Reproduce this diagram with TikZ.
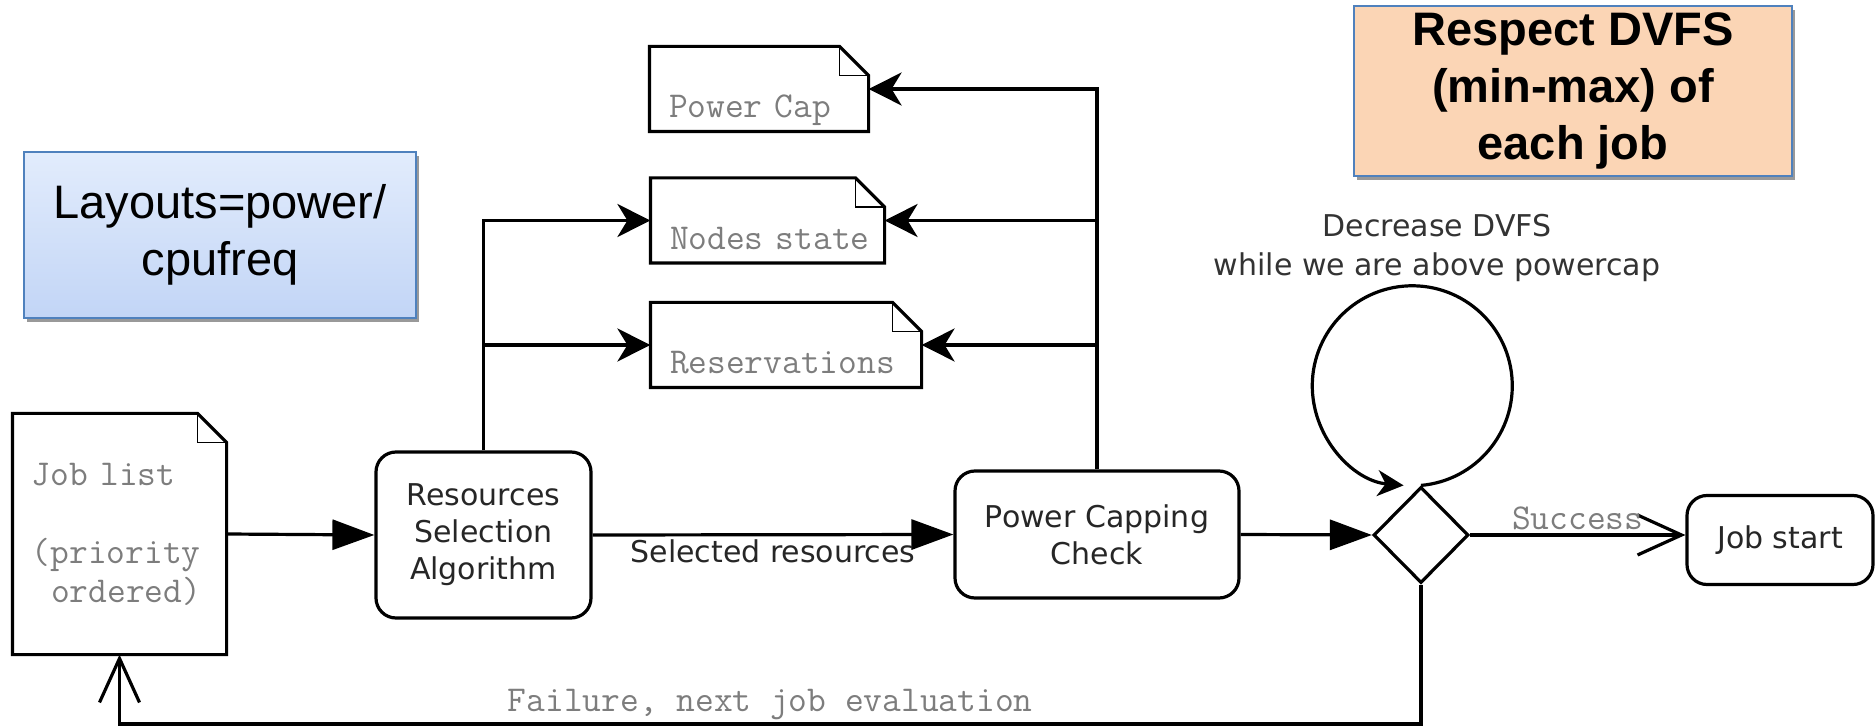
\documentclass[tikz,border=0pt]{standalone}
\usepackage{fontspec}
\setmainfont{DejaVu Sans}
\newfontfamily\arialfont{Liberation Sans}
\usepackage{xcolor}
\usepackage{tikz}
\usetikzlibrary{shapes.geometric,arrows.meta,shadows,calc}

\definecolor{noteblue}{RGB}{79,129,189}
\definecolor{bluetop}{RGB}{226,236,252}
\definecolor{bluebot}{RGB}{194,213,246}
\definecolor{peach}{RGB}{251,213,181}
\definecolor{docgray}{RGB}{125,125,125}

\def\foldsz{14.5pt}
% file outline with a folded corner
\newcommand{\dogear}[1]{%
  \draw (#1.south west) -- (#1.north west) -- ([xshift=-\foldsz]#1.north east)
    -- ([yshift=-\foldsz]#1.north east) -- (#1.south east) -- cycle;
  \draw[line width=0.8pt] ([xshift=-\foldsz]#1.north east) |- ([yshift=-\foldsz]#1.north east);
}

\tikzset{
  flow/.style={-{Triangle[length=21pt,width=15pt]}},
  feed/.style={-{Stealth[length=16.5pt,width=16.5pt,inset=5pt]}},
  barb/.style={-{Straight Barb[length=22pt,width=20pt]}},
  looptip/.style={-{Stealth[length=13pt,width=13pt,inset=4pt]}},
  procbox/.style={draw, rounded corners=10pt, align=center, text=black!85,
    font=\fontsize{15}{18.5}\selectfont},
  decision/.style={draw, diamond, aspect=1, inner sep=0pt,
    minimum width=47.5pt, minimum height=48pt},
  docfile/.style={draw=none, align=left, inner xsep=9pt, inner ysep=0pt,
    text height=35pt, text depth=6pt, text=docgray,
    font=\ttfamily\fontsize{18.2}{19.5}\selectfont},
  doclabel/.style={text=docgray, inner sep=1.5pt,
    font=\ttfamily\fontsize{18.2}{19.5}\selectfont},
  notebox/.style={draw=noteblue, line width=0.8pt, align=center,
    minimum width=#1, minimum height=83pt,
    drop shadow={shadow xshift=1.5pt, shadow yshift=-2pt, fill=black!40, opacity=1}},
}

\begin{document}
\begin{tikzpicture}[x=0.5pt,y=-0.5pt,line width=1.6pt]
  \useasboundingbox (0,0) rectangle (1876,727);

  % Notes
  \node[notebox=196pt, top color=bluetop, bottom color=bluebot,
    font=\arialfont\fontsize{23.5}{28.5}\selectfont] (layouts) at (220,235) {Layouts=power/\\cpufreq};
  \node[notebox=219pt, fill=peach,
    font=\arialfont\bfseries\fontsize{23.5}{28.5}\selectfont] (respect) at (1573,91) {Respect DVFS\\(min-max) of\\each job};

  % Files
  \node[docfile, text width=90pt] (pcap) at (759,89) {Power Cap};
  \node[docfile, text width=97.5pt] (nstate) at (767.5,220.5) {\mbox{Nodes state}};
  \node[docfile, text width=116pt] (resv) at (786,345) {Reservations};
  \node[draw=none, align=left, inner xsep=9pt, text width=87.5pt, minimum height=119pt,
    text=docgray, font=\ttfamily\fontsize{18.2}{19.5}\selectfont] (jobs) at (119.5,534)
    {Job list\\[19.5pt](priority\\\hspace*{0.525em}ordered)};
  \foreach \f in {pcap,nstate,resv,jobs} \dogear{\f};

  % Steps
  \node[procbox, minimum width=107.5pt, minimum height=83pt] (rsa) at (483.5,535) {Resources\\Selection\\Algorithm};
  \node[procbox, minimum width=142pt, minimum height=63.5pt] (pcc) at (1097,534.5) {Power Capping\\Check};
  \node[decision] (dec) at (1421,535) {};
  \node[procbox, minimum width=93pt, minimum height=44.5pt] (start) at (1780,540) {Job start};
  \node[align=center, text=black!80, font=\fontsize{15}{19.5}\selectfont] (dectxt) at (1437,247.5)
    {Decrease DVFS\\while we are above powercap};

  % Main flow
  \draw[flow] (jobs.east) -- (rsa.west);
  \draw[flow] (rsa.east) -- node[below, inner sep=1.5pt, text=black!85,
    font=\fontsize{15}{18}\selectfont] (selres) {Selected resources} (pcc.west);
  \draw[flow] (pcc.east) -- (dec.west);
  \draw[barb] (dec.east) -- node[above, doclabel] (succ) {Success} (dec.east -| start.west);

  % Files written by the selection
  \draw[feed] (rsa.north) |- (nstate.west);
  \draw[feed] (rsa.north |- resv.west) -- (resv.west);

  % Files read by the power capping check
  \draw[feed] (pcc.north) |- (pcap.east);
  \draw[feed] (pcc.north |- nstate.east) -- (nstate.east);
  \draw[feed] (pcc.north |- resv.east) -- (resv.east);

  % DVFS loop
  \draw[looptip] (dec.north) arc[start angle=85, end angle=-265, radius=100];

  % Failure feedback
  \coordinate (fbr) at (1421,724);
  \coordinate (fbl) at (jobs.south |- fbr);
  \draw[barb] (dec.south) -- (fbr) -- node[above, doclabel] (fail) {Failure, next job evaluation} (fbl) -- (jobs.south);
\end{tikzpicture}
\end{document}
